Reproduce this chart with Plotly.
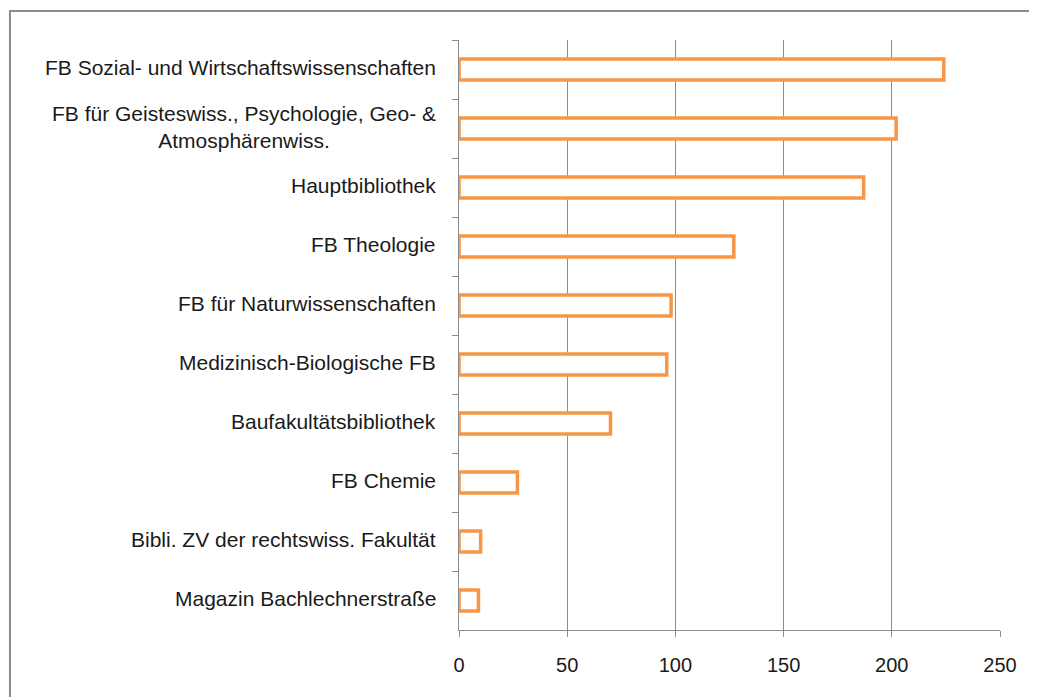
import plotly.graph_objects as go

# Bibliotheken, von oben nach unten
CATEGORIES = [
    "FB Sozial- und Wirtschaftswissenschaften",
    "FB für Geisteswiss., Psychologie, Geo- &<br>Atmosphärenwiss.",
    "Hauptbibliothek",
    "FB Theologie",
    "FB für Naturwissenschaften",
    "Medizinisch-Biologische FB",
    "Baufakultätsbibliothek",
    "FB Chemie",
    "Bibli. ZV der rechtswiss. Fakultät",
    "Magazin Bachlechnerstraße",
]
VALUES = [224, 202, 187, 127, 98, 96, 70, 27, 10, 9]
X_TICKS = [0, 50, 100, 150, 200, 250]

ORANGE = "#F79646"
GRAY = "#8C8C8C"
FONT = dict(family="Arial, Liberation Sans, sans-serif", size=20, color="#1a1a1a")
LABEL_FONT = dict(FONT, size=21)

fig = go.Figure()

fig.add_trace(
    go.Bar(x=VALUES, y=CATEGORIES, orientation="h", width=0.36,
           marker=dict(color="white", line=dict(color=ORANGE, width=3.5)),
           showlegend=False, hoverinfo="x+y"))

# Beschriftungen als Annotationen, damit mehrzeilige Texte zentriert sind
for cat in CATEGORIES:
    fig.add_annotation(x=0, xref="paper", y=cat, yref="y", text=cat,
                       xanchor="right", xshift=-21, yshift=2, align="center",
                       showarrow=False, font=LABEL_FONT)

# grauer Rahmen um das Diagramm (rechts/unten abgeschnitten)
fig.add_shape(type="rect", xref="paper", yref="paper",
              x0=-0.83, x1=1.09, y0=-0.14, y1=1.049,
              line=dict(color=GRAY, width=2), layer="below")

# die Seite hat 8px body-margin, daher Ränder etwas kleiner
fig.update_layout(
    width=1037,
    height=697,
    margin=dict(l=451, r=45, t=32, b=75),
    paper_bgcolor="white",
    plot_bgcolor="white",
    font=FONT,
    xaxis=dict(range=[0, 250], tickvals=X_TICKS, showgrid=True, gridcolor=GRAY,
               gridwidth=1, showline=True, linecolor=GRAY, linewidth=1,
               ticks="outside", ticklen=6, tickcolor=GRAY, zeroline=False,
               ticklabelstandoff=11, tickfont=FONT),
    yaxis=dict(autorange="reversed", showticklabels=False, showgrid=False,
               showline=True, linecolor=GRAY, linewidth=1, ticks="outside",
               tickson="boundaries", ticklen=6, tickcolor=GRAY),
)

fig.write_html("out.html")
